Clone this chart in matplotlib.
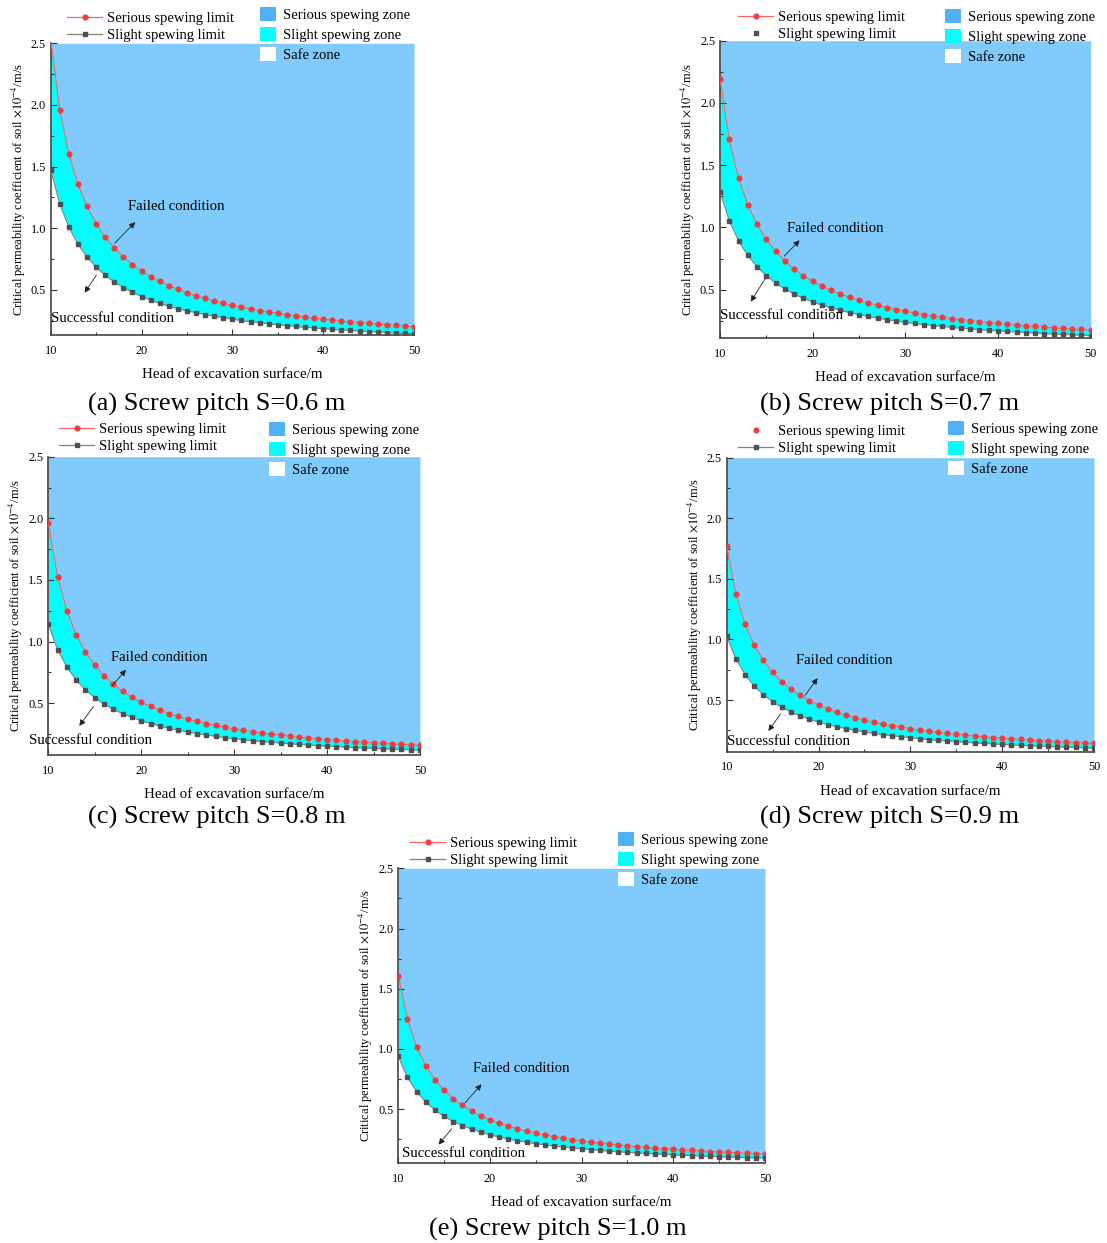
import matplotlib
matplotlib.use("Agg")
import matplotlib.pyplot as plt
from matplotlib.lines import Line2D
from matplotlib.patches import Patch

plt.rcParams["font.family"] = ["Liberation Serif", "DejaVu Serif"]
plt.rcParams["mathtext.fontset"] = "stix"

# head of excavation surface (m)
head = list(range(10, 51))

# critical permeability coefficient (x1e-4 m/s), serious / slight spewing limits
serious_06 = [2.54, 1.962, 1.605, 1.358, 1.177, 1.039, 0.929, 0.841, 0.768, 0.706,
              0.654, 0.609, 0.570, 0.535, 0.505, 0.477, 0.453, 0.431, 0.411, 0.392,
              0.376, 0.360, 0.346, 0.333, 0.321, 0.310, 0.299, 0.290, 0.280, 0.272,
              0.264, 0.256, 0.249, 0.242, 0.235, 0.229, 0.224, 0.218, 0.213, 0.208, 0.203]
slight_06 = [1.474, 1.198, 1.009, 0.872, 0.768, 0.686, 0.619, 0.565, 0.519, 0.480,
             0.447, 0.418, 0.392, 0.369, 0.349, 0.331, 0.315, 0.300, 0.287, 0.275,
             0.263, 0.253, 0.243, 0.234, 0.226, 0.218, 0.211, 0.204, 0.198, 0.192,
             0.187, 0.181, 0.176, 0.172, 0.167, 0.163, 0.159, 0.155, 0.151, 0.148, 0.145]

serious_07 = [2.194, 1.707, 1.396, 1.182, 1.024, 0.904, 0.808, 0.731, 0.668, 0.614,
              0.569, 0.530, 0.495, 0.465, 0.439, 0.415, 0.394, 0.375, 0.357, 0.341,
              0.327, 0.313, 0.301, 0.290, 0.279, 0.269, 0.260, 0.252, 0.244, 0.236,
              0.229, 0.223, 0.216, 0.210, 0.205, 0.199, 0.194, 0.190, 0.185, 0.181, 0.177]
slight_07 = [1.286, 1.054, 0.893, 0.775, 0.684, 0.612, 0.554, 0.506, 0.465, 0.431,
             0.402, 0.376, 0.354, 0.334, 0.316, 0.300, 0.286, 0.272, 0.260, 0.249,
             0.238, 0.229, 0.220, 0.212, 0.205, 0.198, 0.191, 0.185, 0.180, 0.174,
             0.169, 0.165, 0.160, 0.156, 0.152, 0.148, 0.144, 0.141, 0.138, 0.135, 0.131]

serious_08 = [1.963, 1.527, 1.249, 1.057, 0.916, 0.808, 0.723, 0.654, 0.597, 0.550,
              0.509, 0.474, 0.443, 0.416, 0.393, 0.371, 0.352, 0.335, 0.320, 0.305,
              0.292, 0.280, 0.269, 0.259, 0.250, 0.241, 0.233, 0.225, 0.218, 0.211,
              0.205, 0.199, 0.194, 0.188, 0.183, 0.178, 0.174, 0.170, 0.166, 0.162, 0.158]
slight_08 = [1.140, 0.935, 0.793, 0.689, 0.608, 0.545, 0.493, 0.451, 0.415, 0.385,
             0.358, 0.335, 0.315, 0.297, 0.281, 0.267, 0.254, 0.242, 0.231, 0.221,
             0.212, 0.204, 0.196, 0.189, 0.183, 0.177, 0.171, 0.166, 0.161, 0.156,
             0.152, 0.148, 0.144, 0.140, 0.137, 0.134, 0.130, 0.127, 0.125, 0.122, 0.117]

serious_09 = [1.771, 1.378, 1.127, 0.954, 0.827, 0.729, 0.653, 0.590, 0.539, 0.496,
              0.459, 0.428, 0.400, 0.376, 0.354, 0.335, 0.318, 0.302, 0.288, 0.276,
              0.264, 0.253, 0.243, 0.234, 0.225, 0.218, 0.210, 0.203, 0.197, 0.191,
              0.185, 0.180, 0.175, 0.170, 0.165, 0.161, 0.157, 0.153, 0.149, 0.146, 0.143]
slight_09 = [1.027, 0.840, 0.711, 0.616, 0.544, 0.486, 0.440, 0.402, 0.370, 0.342,
             0.319, 0.298, 0.280, 0.264, 0.250, 0.237, 0.225, 0.215, 0.205, 0.197,
             0.189, 0.181, 0.174, 0.168, 0.162, 0.157, 0.151, 0.147, 0.142, 0.138,
             0.134, 0.130, 0.127, 0.123, 0.120, 0.117, 0.114, 0.112, 0.109, 0.107, 0.104]

serious_10 = [1.609, 1.247, 1.018, 0.860, 0.745, 0.657, 0.587, 0.531, 0.485, 0.446,
              0.413, 0.384, 0.359, 0.337, 0.318, 0.301, 0.285, 0.271, 0.259, 0.247,
              0.237, 0.227, 0.218, 0.210, 0.202, 0.195, 0.188, 0.182, 0.176, 0.171,
              0.166, 0.161, 0.157, 0.152, 0.148, 0.144, 0.141, 0.137, 0.134, 0.131, 0.128]
slight_10 = [0.937, 0.764, 0.645, 0.558, 0.492, 0.439, 0.397, 0.363, 0.333, 0.309,
             0.287, 0.268, 0.252, 0.238, 0.225, 0.213, 0.203, 0.193, 0.185, 0.177,
             0.170, 0.163, 0.157, 0.151, 0.146, 0.141, 0.136, 0.132, 0.128, 0.124,
             0.120, 0.117, 0.114, 0.111, 0.108, 0.105, 0.102, 0.100, 0.097, 0.095, 0.093]

captions = ["(a) Screw pitch S=0.6 m", "(b) Screw pitch S=0.7 m", "(c) Screw pitch S=0.8 m",
            "(d) Screw pitch S=0.9 m", "(e) Screw pitch S=1.0 m"]
serious_all = [serious_06, serious_07, serious_08, serious_09, serious_10]
slight_all = [slight_06, slight_07, slight_08, slight_09, slight_10]
y_min = [0.135, 0.11, 0.08, 0.074, 0.05]
y_max = 2.5

W, H = 1107, 1243
# axes boxes in pixels: left, right, top, bottom
boxes = [(50.7, 414, 43.3, 335), (720, 1090.7, 40.7, 338.3), (48.3, 420, 456.7, 755),
         (726.7, 1094, 457.7, 751.7), (398.3, 765, 868.3, 1163.3)]
caption_xy = [(217, 404), (890, 404), (217, 817), (890, 817), (558, 1229)]
# annotation positions (axes fraction): failed text, failed arrow head/tail,
# successful text, successful arrow tail/head
failed_txt = [(0.213, 0.439), (0.182, 0.368), (0.169, 0.328), (0.188, 0.310), (0.203, 0.322)]
failed_arr = [((0.238, 0.394), (0.171, 0.308)), ((0.220, 0.336), (0.168, 0.269)),
              ((0.214, 0.293), (0.166, 0.224)), ((0.252, 0.258), (0.209, 0.184)),
              ((0.232, 0.275), (0.177, 0.198))]
succ_txt = [(0.0, 0.058), (0.0, 0.075), (-0.051, 0.050), (0.0, 0.036), (0.009, 0.034)]
succ_arr = [((0.089, 0.137), (0.130, 0.213)), ((0.079, 0.115), (0.125, 0.207)),
            ((0.079, 0.090), (0.126, 0.170)), ((0.109, 0.063), (0.151, 0.136)),
            ((0.105, 0.056), (0.150, 0.124))]
line_leg = [(0.045, 1.107), (0.049, 1.100), (0.029, 1.113), (0.031, 1.111), (0.032, 1.106)]
zone_leg = [(0.576, 1.124), (0.607, 1.107), (0.594, 1.117), (0.603, 1.125), (0.600, 1.122)]

blue_fill = "#80CBFC"
blue_key = "#4FB2F7"
cyan = "#00FFFF"
red = "#F03C3C"
grey = "#505050"

fig = plt.figure(figsize=(W / 100, H / 100), dpi=100)

for i in range(5):
    l, r, t, b = boxes[i]
    ax = fig.add_axes([l / W, (H - b) / H, (r - l) / W, (b - t) / H])
    ser = serious_all[i]
    sli = slight_all[i]

    ax.fill_between(head, ser, y_max, color=blue_fill, lw=0, zorder=1)
    ax.fill_between(head, sli, ser, color=cyan, lw=0, zorder=1)
    ax.plot(head, ser, "-", color="#FF6060", lw=0.8, marker="o", ms=3.4,
            mfc=red, mec=red, zorder=3)
    ax.plot(head, sli, "-", color="#808080", lw=0.8, marker="s", ms=2.9,
            mfc=grey, mec=grey, zorder=3)

    ax.set_xlim(10, 50)
    ax.set_ylim(y_min[i], y_max)
    ax.set_xticks([10, 20, 30, 40, 50])
    ax.set_xticks([15, 25, 35, 45], minor=True)
    ax.set_yticks([0.5, 1.0, 1.5, 2.0, 2.5])
    ax.set_yticks([0.25, 0.75, 1.25, 1.75, 2.25], minor=True)
    ax.tick_params(which="both", direction="in", top=False, right=False,
                   labelsize=8.8, width=0.8, color="#333333")
    ax.tick_params(which="major", length=4)
    ax.tick_params(which="minor", length=2.5)
    ax.tick_params(axis="x", which="major", pad=7)
    for s in ["top", "right"]:
        ax.spines[s].set_visible(False)
    for s in ["left", "bottom"]:
        ax.spines[s].set_color("#444444")
        ax.spines[s].set_linewidth(1.2)

    ax.set_xlabel("Head of excavation surface/m", fontsize=10.8, labelpad=8)
    ax.set_ylabel(r"Critical permeability coefficient of soil $\times10^{-4}$/m/s",
                  fontsize=9, labelpad=2)

    # condition labels with arrows
    ax.text(*failed_txt[i], "Failed condition", transform=ax.transAxes,
            fontsize=10.6, va="center", ha="left", zorder=5)
    ax.annotate("", xy=failed_arr[i][0], xytext=failed_arr[i][1],
                xycoords="axes fraction", textcoords="axes fraction",
                arrowprops=dict(arrowstyle="-|>", color="#222222", lw=0.6,
                                mutation_scale=9), zorder=5)
    ax.text(*succ_txt[i], "Successful condition", transform=ax.transAxes,
            fontsize=10.6, va="center", ha="left", zorder=5)
    ax.annotate("", xy=succ_arr[i][0], xytext=succ_arr[i][1],
                xycoords="axes fraction", textcoords="axes fraction",
                arrowprops=dict(arrowstyle="-|>", color="#222222", lw=0.6,
                                mutation_scale=9), zorder=5)

    # legends
    ser_ls = "None" if i == 3 else "-"
    sli_ls = "None" if i == 1 else "-"
    h_lines = [Line2D([], [], color="#FF6060", lw=0.9, ls=ser_ls, marker="o", ms=3.4,
                      mfc=red, mec=red),
               Line2D([], [], color="#808080", lw=0.9, ls=sli_ls, marker="s", ms=2.9,
                      mfc=grey, mec=grey)]
    leg1 = ax.legend(h_lines, ["Serious spewing limit", "Slight spewing limit"],
                     loc="upper left", bbox_to_anchor=line_leg[i], frameon=False,
                     fontsize=10.5, handlelength=2.4, handletextpad=0.35,
                     labelspacing=0.25, borderpad=0, borderaxespad=0)
    ax.add_artist(leg1)
    h_zones = [Patch(facecolor=blue_key, edgecolor="none"),
               Patch(facecolor=cyan, edgecolor="none"),
               Patch(facecolor="white", edgecolor="none")]
    ax.legend(h_zones, ["Serious spewing zone", "Slight spewing zone", "Safe zone"],
              loc="upper left", bbox_to_anchor=zone_leg[i], frameon=False,
              fontsize=10.5, handlelength=1.1, handleheight=1.1, handletextpad=0.45,
              labelspacing=0.35, borderpad=0, borderaxespad=0)

    cx, cy = caption_xy[i]
    fig.text(cx / W, 1 - cy / H, captions[i], fontsize=19, ha="center", va="center")

fig.savefig("out.png", dpi=100)
